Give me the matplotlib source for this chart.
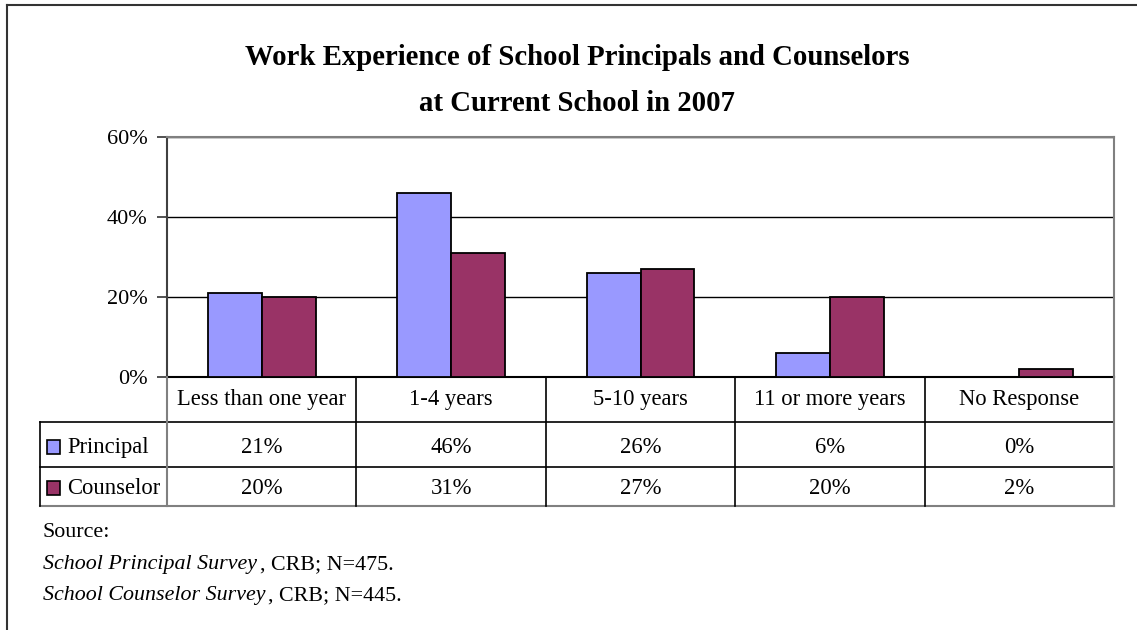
import matplotlib
matplotlib.use("Agg")
import matplotlib.pyplot as plt
from matplotlib.lines import Line2D
from matplotlib.patches import Rectangle
from matplotlib.ticker import FuncFormatter, MultipleLocator
import numpy as np

categories = ["Less than one year", "1-4 years", "5-10 years", "11 or more years", "No Response"]
principal = [21, 46, 26, 6, 0]
counselor = [20, 31, 27, 20, 2]
series_names = ["Principal", "Counselor"]
series_colors = ["#9999FF", "#993366"]
title_lines = ["Work Experience of School Principals and Counselors", "at Current School in 2007"]
source_lines = ["Source:", ("School Principal Survey", ", CRB; N=475."),
                ("School Counselor Survey", ", CRB; N=445.")]

W, H = 1137, 630
plt.rcParams["font.family"] = ["Liberation Serif", "DejaVu Serif"]
fig = plt.figure(figsize=(W / 100, H / 100), dpi=100)


def fx(px):
    return px / W


def fy(py):
    return 1 - py / H


# plot area in pixel coordinates
L, R, T, B = 167, 1114, 137, 377
ax = fig.add_axes([fx(L), fy(B), fx(R) - fx(L), fy(T) - fy(B)])

n = len(categories)
x = np.arange(n)
bw = 0.285
ax.bar(x - bw / 2, principal, bw, color=series_colors[0], edgecolor="black", linewidth=1.3, zorder=3)
ax.bar(x + bw / 2, counselor, bw, color=series_colors[1], edgecolor="black", linewidth=1.3, zorder=3)

ax.set_xlim(-0.5, n - 0.5)
ax.set_ylim(0, 60)
ax.yaxis.set_major_locator(MultipleLocator(20))
ax.yaxis.set_major_formatter(FuncFormatter(lambda v, p: f"{v:.0f}%"))
ax.tick_params(axis="y", direction="out", length=7, width=1.2, color="#333333",
               labelsize=16, pad=7)
ax.tick_params(axis="x", length=0, labelbottom=False)
ax.grid(axis="y", color="black", linewidth=1.0, zorder=0)
ax.set_axisbelow(True)
for side in ("top", "right"):
    ax.spines[side].set_color("#808080")
    ax.spines[side].set_linewidth(1.5)
ax.spines["left"].set_color("#404040")
ax.spines["left"].set_linewidth(1.5)
ax.spines["bottom"].set_color("black")
ax.spines["bottom"].set_linewidth(1.5)

# data table below the plot area
rows = [B, 421.5, 466.5, 506]        # row boundaries, pixels from top
baselines = [405, 453, 494]          # text baseline of each table row
blend = ax.get_xaxis_transform()
fs = 16.3


def ay(py):
    return (B - py) / (B - T)


def hline(py, x0, x1, color="black", lw=1.2):
    fig.add_artist(Line2D([fx(x0), fx(x1)], [fy(py), fy(py)], color=color, lw=lw))


def vline(px, y0, y1, color="black", lw=1.2):
    fig.add_artist(Line2D([fx(px), fx(px)], [fy(y0), fy(y1)], color=color, lw=lw))


TL = 39.5
hline(rows[1], TL, R)
hline(rows[2], TL, R)
hline(rows[3], TL, R, color="#808080", lw=1.5)
vline(TL, rows[1], rows[3])
vline(L, B, rows[3], color="#808080", lw=1.5)
vline(R, B, rows[3], color="#808080", lw=1.5)
for i in range(1, n):
    xb = ax.transData.transform((i - 0.5, 0))[0]
    vline(xb, B, rows[3])

for i, cat in enumerate(categories):
    ax.text(i, ay(baselines[0]), cat, transform=blend, ha="center", va="baseline", fontsize=fs)
    ax.text(i, ay(baselines[1]), f"{principal[i]}%", transform=blend, ha="center",
            va="baseline", fontsize=fs)
    ax.text(i, ay(baselines[2]), f"{counselor[i]}%", transform=blend, ha="center",
            va="baseline", fontsize=fs)

for r, (name, col) in enumerate(zip(series_names, series_colors)):
    bl = baselines[1 + r]
    fig.add_artist(Rectangle((fx(47), fy(bl + 1)), fx(13), 14 / H, facecolor=col,
                             edgecolor="black", lw=1.2))
    fig.text(fx(67), fy(bl), name, ha="left", va="baseline", fontsize=fs)

# title
fig.text(fx(577), fy(65), title_lines[0], ha="center", va="baseline", fontsize=20.7, fontweight="bold")
fig.text(fx(577), fy(111), title_lines[1], ha="center", va="baseline", fontsize=20.7, fontweight="bold")

# source notes
fs_src = 15.8
fig.text(fx(43), fy(537), source_lines[0], ha="left", va="baseline", fontsize=fs_src)
for k, (it, rest) in enumerate(source_lines[1:]):
    yy = fy(569 + 31 * k)
    t = fig.text(fx(43), yy, it, ha="left", va="baseline", fontsize=fs_src, style="italic")
    fig.canvas.draw()
    bb = t.get_window_extent()
    fig.text(bb.x1 / W + fx(3), yy, rest, ha="left", va="baseline", fontsize=fs_src)

# chart border
hline(5, 7, W, color="#333333", lw=1.5)
vline(7, 5, H, color="#333333", lw=1.5)

fig.savefig("out.png", dpi=100)
